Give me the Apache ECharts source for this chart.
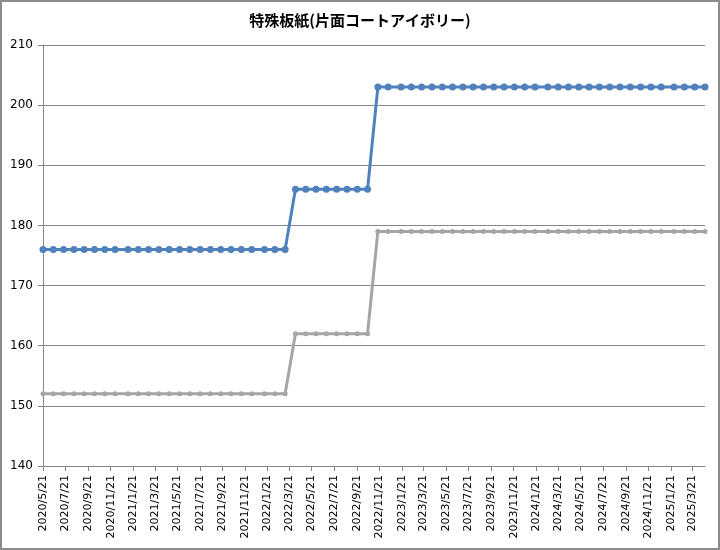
<!DOCTYPE html>
<html>
<head>
<meta charset="utf-8">
<script src="https://cdn.jsdelivr.net/npm/echarts@6/dist/echarts.min.js"></script>
<style>
    html, body { margin: 0; padding: 0; background: #fff; }
    #chart { width: 720px; height: 550px; box-sizing: border-box; border: 2px solid #8c8c8c; }
</style>
</head>
<body>
<div id="chart"></div>
<script>
// 日付（データ取得日）
var dates = [
    '2020/5/21', '2020/6/18', '2020/7/16', '2020/8/13', '2020/9/10', '2020/10/8', '2020/11/5', '2020/12/3',
    '2021/1/7', '2021/2/4', '2021/3/4', '2021/4/1', '2021/4/29', '2021/5/27', '2021/6/24', '2021/7/22',
    '2021/8/19', '2021/9/16', '2021/10/14', '2021/11/11', '2021/12/9', '2022/1/13', '2022/2/10', '2022/3/10',
    '2022/4/7', '2022/5/5', '2022/6/2', '2022/6/30', '2022/7/28', '2022/8/25', '2022/9/22', '2022/10/20',
    '2022/11/17', '2022/12/15', '2023/1/19', '2023/2/16', '2023/3/16', '2023/4/13', '2023/5/11', '2023/6/8',
    '2023/7/6', '2023/8/3', '2023/8/31', '2023/9/28', '2023/10/26', '2023/11/23', '2023/12/21', '2024/1/18',
    '2024/2/22', '2024/3/21', '2024/4/18', '2024/5/16', '2024/6/13', '2024/7/11', '2024/8/8', '2024/9/5',
    '2024/10/3', '2024/10/31', '2024/11/28', '2024/12/26', '2025/1/30', '2025/2/27', '2025/3/27', '2025/4/24'
];

// 系列1（青）
var blueValues = [
    176, 176, 176, 176, 176, 176, 176, 176,
    176, 176, 176, 176, 176, 176, 176, 176,
    176, 176, 176, 176, 176, 176, 176, 176,
    186, 186, 186, 186, 186, 186, 186, 186,
    203, 203, 203, 203, 203, 203, 203, 203,
    203, 203, 203, 203, 203, 203, 203, 203,
    203, 203, 203, 203, 203, 203, 203, 203,
    203, 203, 203, 203, 203, 203, 203, 203
];

// 系列2（灰）
var grayValues = [
    152, 152, 152, 152, 152, 152, 152, 152,
    152, 152, 152, 152, 152, 152, 152, 152,
    152, 152, 152, 152, 152, 152, 152, 152,
    162, 162, 162, 162, 162, 162, 162, 162,
    179, 179, 179, 179, 179, 179, 179, 179,
    179, 179, 179, 179, 179, 179, 179, 179,
    179, 179, 179, 179, 179, 179, 179, 179,
    179, 179, 179, 179, 179, 179, 179, 179
];

// 横軸の目盛ラベル
var tickLabels = [
    '2020/5/21', '2020/7/21', '2020/9/21', '2020/11/21',
    '2021/1/21', '2021/3/21', '2021/5/21', '2021/7/21', '2021/9/21', '2021/11/21',
    '2022/1/21', '2022/3/21', '2022/5/21', '2022/7/21', '2022/9/21', '2022/11/21',
    '2023/1/21', '2023/3/21', '2023/5/21', '2023/7/21', '2023/9/21', '2023/11/21',
    '2024/1/21', '2024/3/21', '2024/5/21', '2024/7/21', '2024/9/21', '2024/11/21',
    '2025/1/21', '2025/3/21'
];

// 日付 -> 日数（UTC基準で時差の影響をなくす）
function toDay(s) {
    var p = s.split('/');
    return Date.UTC(+p[0], +p[1] - 1, +p[2]) / 86400000;
}

function formatDay(v) {
    var d = new Date(Math.round(v) * 86400000);
    return d.getUTCFullYear() + '/' + (d.getUTCMonth() + 1) + '/' + d.getUTCDate();
}

var days = dates.map(toDay);
var tickDays = tickLabels.map(toDay);

function pairs(values) {
    return values.map(function (v, i) {
        return [days[i], v];
    });
}

var myChart = echarts.init(document.getElementById('chart'));
var option = {
    animation: false,
    title: {
        text: '特殊板紙(片面コートアイボリー)',
        left: 'center',
        top: 6,
        textStyle: {
            fontFamily: 'Noto Sans CJK JP',
            fontSize: 15,
            fontWeight: 'bold',
            color: '#000'
        }
    },
    grid: {
        left: 41,
        right: 13,
        top: 43,
        bottom: 82
    },
    xAxis: {
        type: 'value',
        min: days[0],
        max: days[days.length - 1],
        splitLine: { show: false },
        axisLine: {
            lineStyle: { color: '#868686', width: 1 }
        },
        axisTick: {
            show: true,
            length: 5,
            customValues: tickDays,
            lineStyle: { color: '#868686' }
        },
        axisLabel: {
            rotate: 90,
            margin: 9,
            customValues: tickDays,
            formatter: formatDay,
            fontFamily: 'DejaVu Sans',
            fontSize: 11,
            color: '#000'
        }
    },
    yAxis: {
        type: 'value',
        min: 140,
        max: 210,
        interval: 10,
        axisLine: {
            show: true,
            lineStyle: { color: '#868686', width: 1 }
        },
        axisTick: {
            show: true,
            length: 5,
            lineStyle: { color: '#868686' }
        },
        splitLine: {
            lineStyle: { color: '#868686', width: 1 }
        },
        axisLabel: {
            margin: 10,
            fontFamily: 'DejaVu Sans',
            fontSize: 12,
            color: '#000'
        }
    },
    series: [
        {
            name: '青',
            type: 'line',
            data: pairs(blueValues),
            symbol: 'circle',
            symbolSize: 7,
            lineStyle: { color: '#4F81BD', width: 3 },
            itemStyle: { color: '#4F81BD' }
        },
        {
            name: '灰',
            type: 'line',
            data: pairs(grayValues),
            symbol: 'circle',
            symbolSize: 5,
            lineStyle: { color: '#A5A5A5', width: 3 },
            itemStyle: { color: '#A5A5A5' }
        }
    ]
};
myChart.setOption(option);
</script>
</body>
</html>
